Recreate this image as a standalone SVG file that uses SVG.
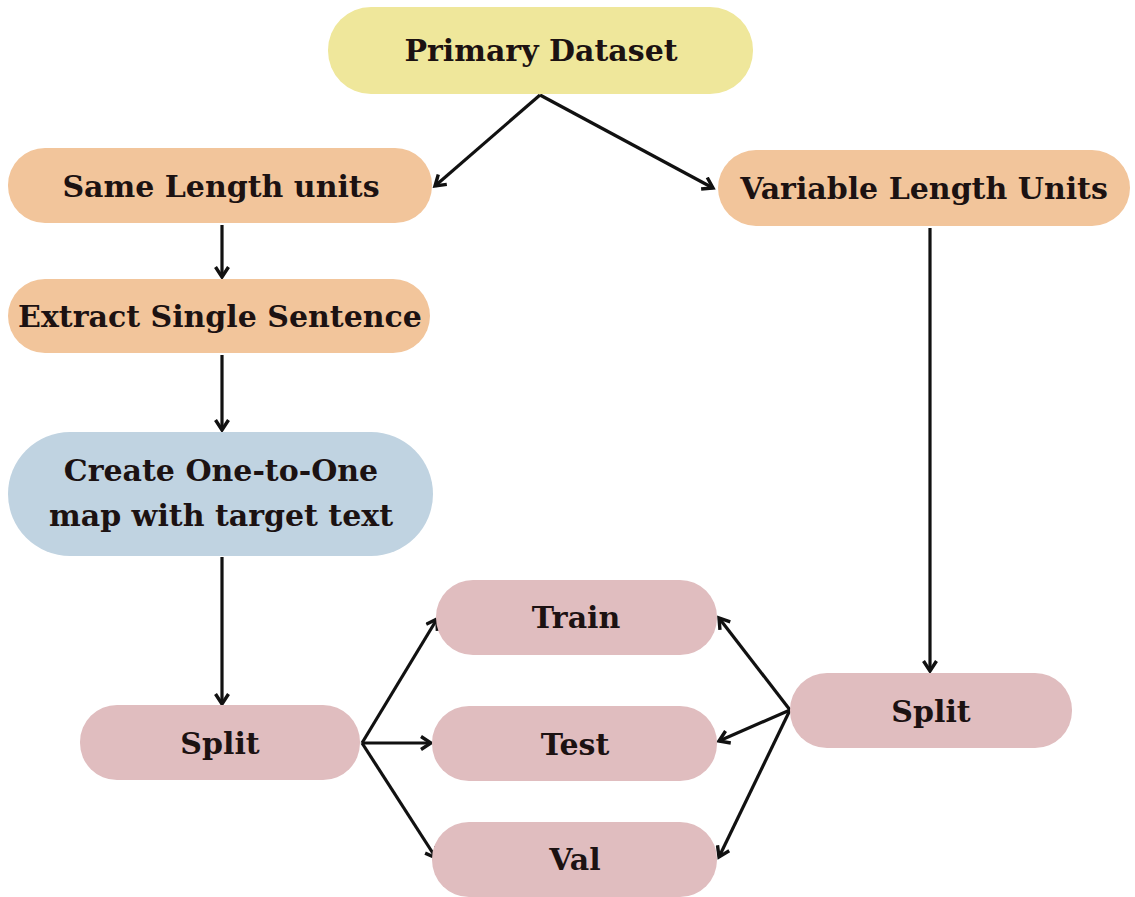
<svg xmlns="http://www.w3.org/2000/svg" width="1135" height="897" viewBox="0 0 1135 897">
  <style>
    .lbl { font-family: "DejaVu Serif", "Liberation Serif", serif; font-weight: bold; font-size: 30px; fill: #1c1212; text-anchor: middle; dominant-baseline: central; }
    .yellow { fill: #EFE79B; }
    .orange { fill: #F2C59B; }
    .blue { fill: #C0D3E1; }
    .pink { fill: #E0BDBF; }
    .edge { stroke: #111; stroke-width: 3.2; fill: none; marker-end: url(#arrow); }
  </style>
  <defs>
    <marker id="arrow" viewBox="0 0 16 16" refX="13" refY="8" markerWidth="16" markerHeight="16" markerUnits="userSpaceOnUse" orient="auto">
      <path d="M3,1.5 L13,8 L3,14.5" fill="none" stroke="#111" stroke-width="3.4" stroke-linejoin="miter"/>
    </marker>
  </defs>
  <rect width="1135" height="897" fill="#fff"/>

  <g id="connectors">
    <line class="edge" x1="540" y1="95" x2="435" y2="186"/>
    <line class="edge" x1="540" y1="95" x2="713" y2="188"/>
    <line class="edge" x1="222" y1="225" x2="222" y2="277"/>
    <line class="edge" x1="222" y1="355" x2="222" y2="430"/>
    <line class="edge" x1="222" y1="557" x2="222" y2="704"/>
    <line class="edge" x1="930" y1="228" x2="930" y2="671"/>
    <line class="edge" x1="362" y1="743" x2="437" y2="619"/>
    <line class="edge" x1="362" y1="743" x2="431" y2="743"/>
    <line class="edge" x1="362" y1="743" x2="436" y2="858"/>
    <line class="edge" x1="790" y1="710" x2="719" y2="618"/>
    <line class="edge" x1="790" y1="710" x2="719" y2="741"/>
    <line class="edge" x1="790" y1="710" x2="719" y2="857"/>
  </g>

  <g id="primary-dataset">
    <rect class="yellow" x="328" y="7" width="425" height="87" rx="43"/>
    <text class="lbl" x="541" y="50">Primary Dataset</text>
  </g>
  <g id="same-length-units">
    <rect class="orange" x="8" y="148" width="424" height="75" rx="37"/>
    <text class="lbl" x="221" y="186">Same Length units</text>
  </g>
  <g id="variable-length-units">
    <rect class="orange" x="718" y="150" width="412" height="76" rx="38"/>
    <text class="lbl" x="924" y="188">Variable Length Units</text>
  </g>
  <g id="extract-single-sentence">
    <rect class="orange" x="8" y="279" width="422" height="74" rx="37"/>
    <text class="lbl" x="220" y="316">Extract Single Sentence</text>
  </g>
  <g id="create-map">
    <rect class="blue" x="8" y="432" width="425" height="124" rx="62"/>
    <text class="lbl" x="221" y="470">Create One-to-One</text>
    <text class="lbl" x="221" y="515">map with target text</text>
  </g>
  <g id="split-left">
    <rect class="pink" x="80" y="705" width="280" height="75" rx="37"/>
    <text class="lbl" x="220" y="743">Split</text>
  </g>
  <g id="train">
    <rect class="pink" x="436" y="580" width="281" height="75" rx="37"/>
    <text class="lbl" x="576" y="617">Train</text>
  </g>
  <g id="test">
    <rect class="pink" x="432" y="706" width="285" height="75" rx="37"/>
    <text class="lbl" x="575" y="744">Test</text>
  </g>
  <g id="val">
    <rect class="pink" x="432" y="822" width="285" height="75" rx="37"/>
    <text class="lbl" x="575" y="859">Val</text>
  </g>
  <g id="split-right">
    <rect class="pink" x="790" y="673" width="282" height="75" rx="37"/>
    <text class="lbl" x="931" y="711">Split</text>
  </g>
</svg>
